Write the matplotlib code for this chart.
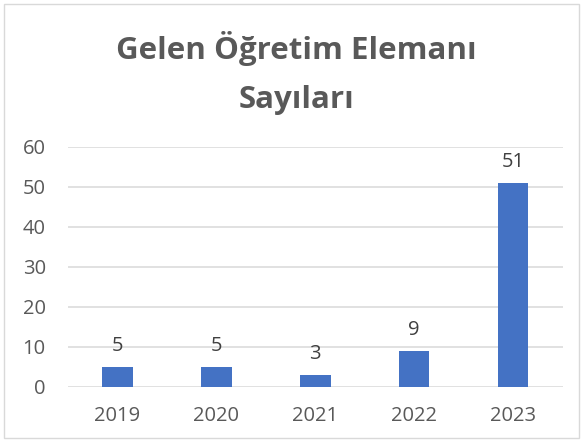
import matplotlib
matplotlib.use("Agg")
import matplotlib.pyplot as plt
from matplotlib.patches import Rectangle

years = ["2019", "2020", "2021", "2022", "2023"]
counts = [5, 5, 3, 9, 51]
yticks = [0, 10, 20, 30, 40, 50, 60]

plt.rcParams['font.family'] = ['Open Sans', 'DejaVu Sans']

fig = plt.figure(figsize=(5.84, 4.46), dpi=100)
ax = fig.add_axes([68 / 584, 1 - 387 / 446, 494.5 / 584, 240 / 446])

x = range(len(years))
bars = ax.bar(x, counts, width=0.31, color="#4472C4", zorder=3)

for xi, v in zip(x, counts):
    ax.annotate(str(v), xy=(xi, v), xytext=(0, 8), textcoords="offset points",
                ha="center", va="bottom", fontsize=14.5, color="#404040")

ax.set_xlim(-0.5, len(years) - 0.5)
ax.set_ylim(0, 60)
ax.set_yticks(yticks)
ax.set_xticks(list(x))
ax.set_xticklabels(years)
ax.yaxis.grid(True, color="#d9d9d9", linewidth=1.1, zorder=0)
ax.tick_params(axis="both", length=0, labelsize=14.5, labelcolor="#595959")
ax.tick_params(axis="y", pad=16)
ax.tick_params(axis="x", pad=14)
for s in ax.spines.values():
    s.set_visible(False)

fig.text(0.507, 1 - 49 / 446, "Gelen Öğretim Elemanı", ha="center", va="center",
         fontsize=22.5, fontweight="bold", color="#595959")
fig.text(0.507, 1 - 100 / 446, "Sayıları", ha="center", va="center",
         fontsize=22.5, fontweight="bold", color="#595959")

fig.patches.append(Rectangle((3.5 / 584, 1 - 438 / 446), 575 / 584, 434.5 / 446,
                             transform=fig.transFigure, fill=False,
                             edgecolor="#d9d9d9", linewidth=1))

fig.savefig("out.png", dpi=100)
